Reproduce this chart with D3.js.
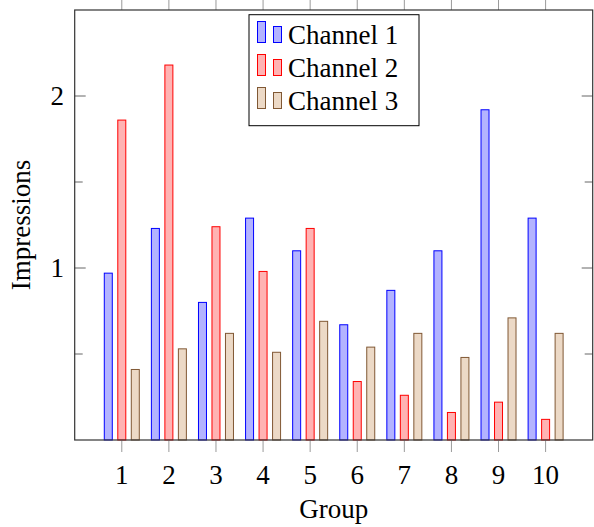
<!DOCTYPE html>
<html>
<head>
<meta charset="utf-8">
<script src="https://cdn.jsdelivr.net/npm/d3@7"></script>
<style>
  html, body { margin: 0; padding: 0; background: #fff; }
  svg { display: block; }
  text { font-family: "Liberation Serif", "DejaVu Serif", serif; fill: #000; }
</style>
</head>
<body>
<svg id="chart" width="594" height="527"></svg>
<script>
const groups = [1, 2, 3, 4, 5, 6, 7, 8, 9, 10];
const channel1 = [0.97, 1.23, 0.80, 1.29, 1.10, 0.67, 0.87, 1.10, 1.92, 1.29];
const channel2 = [1.86, 2.18, 1.24, 0.98, 1.23, 0.34, 0.26, 0.16, 0.22, 0.12];
const channel3 = [0.41, 0.53, 0.62, 0.51, 0.69, 0.54, 0.62, 0.48, 0.71, 0.62];
const seriesNames = ["Channel 1", "Channel 2", "Channel 3"];
const yTicksMajor = [1, 2];
const yTicksMinor = [0.5, 1.5];
const xLabel = "Group";
const yLabel = "Impressions";

const series = [
  { name: seriesNames[0], values: channel1, fill: "rgb(179,179,255)", stroke: "rgb(0,0,255)" },
  { name: seriesNames[1], values: channel2, fill: "rgb(255,179,179)", stroke: "rgb(255,0,0)" },
  { name: seriesNames[2], values: channel3, fill: "rgb(236,217,198)", stroke: "rgb(128,88,52)" }
];

const svg = d3.select("#chart");
const L = 74.7, R = 592.7, T = 10, B = 440;
const x = d3.scaleLinear().domain([0, 11]).range([L, R]);
const y = d3.scaleLinear().domain([0, 2.5]).range([B, T]);
const barW = 8, offset = 13.5;
const fs = 27;

// bars
series.forEach((s, si) => {
  svg.append("g").selectAll("rect").data(groups).join("rect")
    .attr("x", (g) => x(g) + (si - 1) * offset - barW / 2)
    .attr("y", (g, i) => y(s.values[i]))
    .attr("width", barW)
    .attr("height", (g, i) => y(0) - y(s.values[i]))
    .attr("fill", s.fill)
    .attr("stroke", s.stroke)
    .attr("stroke-width", 1);
});

// x ticks (outside, top and bottom)
const tickColor = "#9a9a9a";
svg.append("g").selectAll("line").data(groups).join("line")
  .attr("x1", d => x(d)).attr("x2", d => x(d))
  .attr("y1", B).attr("y2", B + 12)
  .attr("stroke", tickColor).attr("stroke-width", 1);
svg.append("g").selectAll("line").data(groups).join("line")
  .attr("x1", d => x(d)).attr("x2", d => x(d))
  .attr("y1", T).attr("y2", T - 12)
  .attr("stroke", tickColor).attr("stroke-width", 1);

// y ticks (inside, left and right)
const yt = yTicksMajor.map(v => ({ v, len: 11 })).concat(yTicksMinor.map(v => ({ v, len: 8 })));
svg.append("g").selectAll("line").data(yt).join("line")
  .attr("x1", L).attr("x2", d => L + d.len)
  .attr("y1", d => y(d.v)).attr("y2", d => y(d.v))
  .attr("stroke", "#666").attr("stroke-width", 1);
svg.append("g").selectAll("line").data(yt).join("line")
  .attr("x1", R).attr("x2", d => R - d.len)
  .attr("y1", d => y(d.v)).attr("y2", d => y(d.v))
  .attr("stroke", "#666").attr("stroke-width", 1);

// frame
svg.append("rect")
  .attr("x", L).attr("y", T).attr("width", R - L).attr("height", B - T)
  .attr("fill", "none").attr("stroke", "#333").attr("stroke-width", 1.2);

// tick labels
svg.append("g").selectAll("text").data(groups).join("text")
  .attr("x", d => x(d)).attr("y", 484)
  .attr("text-anchor", "middle").attr("font-size", fs)
  .text(d => d);
svg.append("g").selectAll("text").data(yTicksMajor).join("text")
  .attr("x", 64).attr("y", d => y(d) + 9)
  .attr("text-anchor", "end").attr("font-size", fs)
  .text(d => d);

// axis labels
svg.append("text")
  .attr("x", (L + R) / 2).attr("y", 518)
  .attr("text-anchor", "middle").attr("font-size", fs)
  .text(xLabel);
svg.append("text")
  .attr("transform", `translate(30,${(T + B) / 2}) rotate(-90)`)
  .attr("text-anchor", "middle").attr("font-size", fs)
  .text(yLabel);

// legend
const lg = svg.append("g");
lg.append("rect")
  .attr("x", 249).attr("y", 14.7).attr("width", 170).attr("height", 111)
  .attr("fill", "#fff").attr("stroke", "#000").attr("stroke-width", 1);
series.forEach((s, i) => {
  const by = 42.5 + i * 33;
  lg.append("rect").attr("x", 257.5).attr("y", by - 21).attr("width", 8).attr("height", 21)
    .attr("fill", s.fill).attr("stroke", s.stroke).attr("stroke-width", 1);
  lg.append("rect").attr("x", 273.5).attr("y", by - 16).attr("width", 8).attr("height", 16)
    .attr("fill", s.fill).attr("stroke", s.stroke).attr("stroke-width", 1);
  lg.append("text").attr("x", 288).attr("y", by + 1.5).attr("font-size", fs).text(s.name);
});
</script>
</body>
</html>
